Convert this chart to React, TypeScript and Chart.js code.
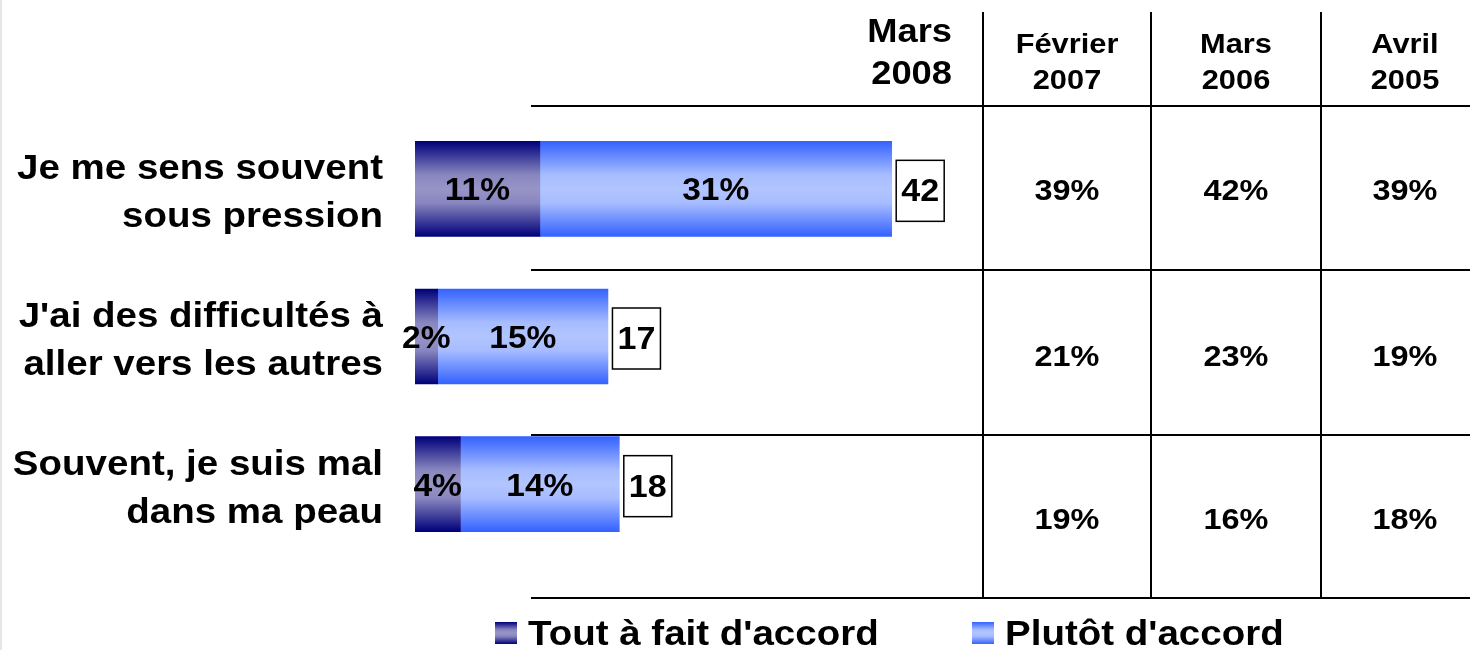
import React, { useEffect, useRef } from "react";
import { Chart, registerables } from "chart.js";

Chart.register(...registerables);

const categories: string[][] = [
  ["Je me sens souvent", "sous pression"],
  ["J'ai des difficultés à", "aller vers les autres"],
  ["Souvent, je suis mal", "dans ma peau"],
];
const seriesNames = ["Tout à fait d'accord", "Plutôt d'accord"];
const toutAFait = [11, 2, 4];
const plutot = [31, 15, 14];
const totals = [42, 17, 18];
const headerMain = ["Mars", "2008"];
const headerCols: string[][] = [
  ["Février", "2007"],
  ["Mars", "2006"],
  ["Avril", "2005"],
];
const fevrier2007 = ["39%", "21%", "19%"];
const mars2006 = ["42%", "23%", "16%"];
const avril2005 = ["39%", "19%", "18%"];

const FONT = '"Liberation Sans", Arial, Helvetica, sans-serif';
const SX = 1.1;
const DY = 3;
const BAR_T = 95;

function txt(ctx: CanvasRenderingContext2D, s: string, x: number, y: number, size: number, align: CanvasTextAlign, sx = SX) {
  ctx.save();
  ctx.font = `bold ${size}px ${FONT}`;
  ctx.textBaseline = "middle";
  ctx.textAlign = align;
  ctx.fillStyle = "#000";
  ctx.translate(x, y + DY);
  ctx.scale(sx, 1);
  ctx.fillText(s, 0, 0);
  ctx.restore();
}

function darkGrad(ctx: CanvasRenderingContext2D, y0: number, y1: number) {
  const g = ctx.createLinearGradient(0, y0, 0, y1);
  g.addColorStop(0, "#00007a");
  g.addColorStop(0.35, "#8886bf");
  g.addColorStop(0.5, "#9795c6");
  g.addColorStop(0.65, "#8886bf");
  g.addColorStop(1, "#00007a");
  return g;
}
function lightGrad(ctx: CanvasRenderingContext2D, y0: number, y1: number) {
  const g = ctx.createLinearGradient(0, y0, 0, y1);
  g.addColorStop(0, "#3462ff");
  g.addColorStop(0.35, "#a6bcff");
  g.addColorStop(0.5, "#b2c5ff");
  g.addColorStop(0.65, "#a6bcff");
  g.addColorStop(1, "#3462ff");
  return g;
}

function scriptedBg(kind: "dark" | "light") {
  return (c: any) => {
    const chart = c.chart;
    const fallback = kind === "dark" ? "#5a58a0" : "#7f9bff";
    const ys = chart.scales && chart.scales.y;
    if (!ys || c.dataIndex === undefined) return fallback;
    const yc = ys.getPixelForValue(c.dataIndex);
    if (!Number.isFinite(yc)) return fallback;
    const g = kind === "dark" ? darkGrad : lightGrad;
    return g(chart.ctx, yc - BAR_T / 2, yc + BAR_T / 2);
  };
}

const overlay = {
  id: "overlay",
  afterDatasetsDraw(chart: any) {
    const ctx: CanvasRenderingContext2D = chart.ctx;
    const xs = chart.scales.x;
    const ys = chart.scales.y;

    ctx.save();
    ctx.fillStyle = "#e6e6e6";
    ctx.fillRect(0, 0, 2, 650);
    ctx.restore();

    ctx.save();
    ctx.strokeStyle = "#000";
    ctx.lineWidth = 2;
    const hLines = [106, 270, 435, 598];
    hLines.forEach((y) => {
      ctx.beginPath();
      ctx.moveTo(531, y);
      ctx.lineTo(1470, y);
      ctx.stroke();
    });
    const vLines = [983, 1151, 1321];
    vLines.forEach((x) => {
      ctx.beginPath();
      ctx.moveTo(x, 12);
      ctx.lineTo(x, 598);
      ctx.stroke();
    });
    ctx.restore();

    txt(ctx, headerMain[0], 952, 30, 33, "right");
    txt(ctx, headerMain[1], 952, 72, 33, "right");
    const colCenters = [1067, 1236, 1405];
    headerCols.forEach((h, i) => {
      txt(ctx, h[0], colCenters[i], 42, 28, "center");
      txt(ctx, h[1], colCenters[i], 78, 28, "center");
    });

    const cellCenters = [189, 355, 518];
    [fevrier2007, mars2006, avril2005].forEach((col, ci) => {
      col.forEach((v, ri) => {
        txt(ctx, v, colCenters[ci], cellCenters[ri], 29.5, "center");
      });
    });

    categories.forEach((lines, i) => {
      const yc = ys.getPixelForValue(i);
      txt(ctx, lines[0], 383, yc - 22, 35, "right");
      txt(ctx, lines[1], 383, yc + 26, 35, "right");

      const x0 = xs.getPixelForValue(0);
      const x1 = xs.getPixelForValue(toutAFait[i]);
      const x2 = xs.getPixelForValue(toutAFait[i] + plutot[i]);
      txt(ctx, toutAFait[i] + "%", (x0 + x1) / 2, yc, 30.5, "center");
      txt(ctx, plutot[i] + "%", (x1 + x2) / 2, yc, 30.5, "center");

      const bx = x2 + 4;
      const bw = 49;
      const bh = 62;
      const by = yc + 2 - bh / 2;
      ctx.save();
      ctx.fillStyle = "#fff";
      ctx.fillRect(bx, by, bw, bh);
      ctx.strokeStyle = "#000";
      ctx.lineWidth = 1.5;
      ctx.strokeRect(bx + 0.5, by + 0.5, bw - 1, bh - 1);
      ctx.restore();
      txt(ctx, String(totals[i]), bx + bw / 2, yc + 1, 31, "center");
    });

    const legendItems = [
      { x: 495, grad: darkGrad, label: seriesNames[0] },
      { x: 972, grad: lightGrad, label: seriesNames[1] },
    ];
    legendItems.forEach((it) => {
      ctx.save();
      ctx.fillStyle = it.grad(ctx, 622, 644);
      ctx.fillRect(it.x, 622, 22, 22);
      ctx.restore();
      txt(ctx, it.label, it.x + 33, 632, 35, "left");
    });
  },
};

export default function App() {
  const ref = useRef<HTMLCanvasElement | null>(null);
  useEffect(() => {
    if (!ref.current) return;
    const pxPerUnit = 11.35;
    const maxX = 50;
    const chart = new Chart(ref.current, {
      type: "bar",
      data: {
        labels: categories.map((c) => c.join(" ")),
        datasets: [
          { label: seriesNames[0], data: toutAFait, backgroundColor: scriptedBg("dark"), borderWidth: 0, barThickness: BAR_T },
          { label: seriesNames[1], data: plutot, backgroundColor: scriptedBg("light"), borderWidth: 0, barThickness: BAR_T },
        ],
      },
      options: {
        indexAxis: "y",
        responsive: false,
        animation: false,
        layout: {
          padding: { left: 415, right: 1470 - 415 - maxX * pxPerUnit, top: 115, bottom: 92 },
        },
        scales: {
          x: { stacked: true, min: 0, max: maxX, display: false },
          y: { stacked: true, display: false },
        },
        plugins: {
          legend: { display: false },
          tooltip: { enabled: false },
        },
      },
      plugins: [overlay],
    });
    return () => chart.destroy();
  }, []);
  return (
    <div style={{ position: "fixed", left: 0, top: 0, width: 1470, height: 650, background: "#fff" }}>
      <canvas ref={ref} width={1470} height={650} style={{ display: "block" }} />
    </div>
  );
}
